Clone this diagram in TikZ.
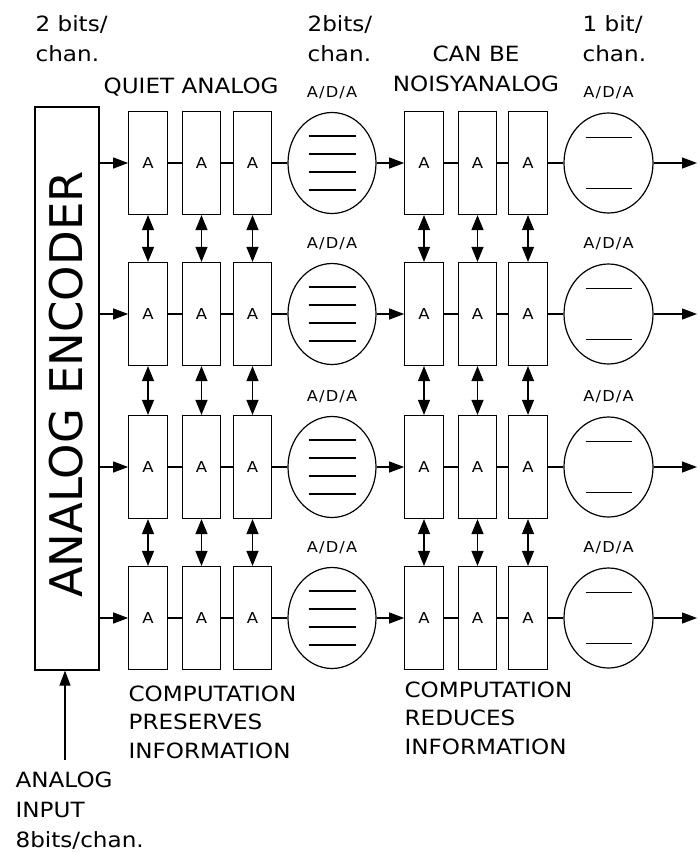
\documentclass[tikz,border=0pt]{standalone}
\usepackage{fontspec}
\setmainfont{DejaVu Sans}
\newfontfamily\widef{DejaVu Sans}[FakeStretch=1.1]
\newfontfamily\adaf{DejaVu Sans}[FakeStretch=1.08,LetterSpace=8]
\usetikzlibrary{arrows.meta,shapes.geometric}
\begin{document}
\begin{tikzpicture}[x=1pt,y=-1pt,line width=1.2pt,
  abox/.style={draw,rectangle,minimum width=38.5pt,minimum height=103pt,inner sep=0pt,font=\widef\fontsize{15}{17}\selectfont},
  adc/.style={draw,ellipse,minimum width=88pt,minimum height=101pt,inner sep=0pt},
  arr/.style={-{Triangle[length=15pt,width=11pt]}},
  darr/.style={{Triangle[length=15pt,width=12pt]}-{Triangle[length=15pt,width=12pt]}},
  lbl/.style={font=\widef\fontsize{21}{30}\selectfont,inner sep=0pt,align=left},
  lblb/.style={font=\widef\fontsize{21}{28.5}\selectfont,inner sep=0pt,align=left},
  ada/.style={font=\adaf\fontsize{15}{17}\selectfont,inner sep=0pt}]
\useasboundingbox (0,0) rectangle (700,852);
% encoder
\node[draw,rectangle,minimum width=64pt,minimum height=563pt,inner sep=0pt] (enc) at (67,388.5) {};
\node[rotate=90,inner sep=0pt,font=\fontsize{45}{50}\selectfont] (enctxt) at (66.5,384.5) {ANALOG ENCODER};
\coordinate (in) at (65,760);
\draw[arr] (in) -- (in |- enc.south);
% rows
\foreach \r/\y in {1/163,2/314,3/467,4/618}{
  \foreach \c/\x in {1/148,2/201.5,3/252.5,4/424,5/477.5,6/528}
    \node[abox] (b\r\c) at (\x,\y) {A};
  \node[adc] (e\r1) at (332,\y) {};
  \node[adc,minimum width=89pt,minimum height=100pt] (e\r2) at (608.5,\y) {};
  \node[ada] (ta\r) at (332,{\y-70.5}) {A/D/A};
  \node[ada] (tb\r) at (608.5,{\y-70.5}) {A/D/A};
  \foreach \d in {-27,-9,9,27}
    \draw ([xshift=-23.5pt,yshift=\d pt]e\r1.center) -- ++(47,0);
  \foreach \d in {-25.5,25.5}
    \draw ([xshift=-23pt,yshift=\d pt]e\r2.center) -- ++(46,0);
  \draw[arr] (enc.east |- b\r1.west) -- (b\r1.west);
  \draw (b\r1.east) -- (b\r2.west);
  \draw (b\r2.east) -- (b\r3.west);
  \draw (b\r3.east) -- (e\r1.west);
  \draw[arr] (e\r1.east) -- (b\r4.west);
  \draw (b\r4.east) -- (b\r5.west);
  \draw (b\r5.east) -- (b\r6.west);
  \draw (b\r6.east) -- (e\r2.west);
  \coordinate (o\r) at (697,\y);
  \draw[arr] (e\r2.east) -- (o\r);
}
\foreach \r/\s in {1/2,2/3,3/4}
  \foreach \c in {1,...,6}
    \draw[darr] (b\r\c.south) -- (b\s\c.north);
% labels
\node[lbl,anchor=north west] (t1) at (35,15) {2 bits/\\chan.};
\node[lbl,anchor=north west] (t2) at (307,15) {2bits/\\chan.};
\node[lbl,anchor=north west] (t3) at (582,15) {1 bit/\\chan.};
\node[lbl,anchor=west] (t4) at (103,87.5) {QUIET ANALOG};
\node[lbl,anchor=north,align=center] (t5) at (476,45) {CAN BE\\NOISYANALOG};
\node[lblb,anchor=north west] (t6) at (128,685) {COMPUTATION\\PRESERVES\\INFORMATION};
\node[lblb,anchor=north west] (t7) at (404,681) {COMPUTATION\\REDUCES\\INFORMATION};
\node[lbl,anchor=north west] (t8) at (15,771) {ANALOG\\INPUT\\8bits/chan.};
\end{tikzpicture}
\end{document}
